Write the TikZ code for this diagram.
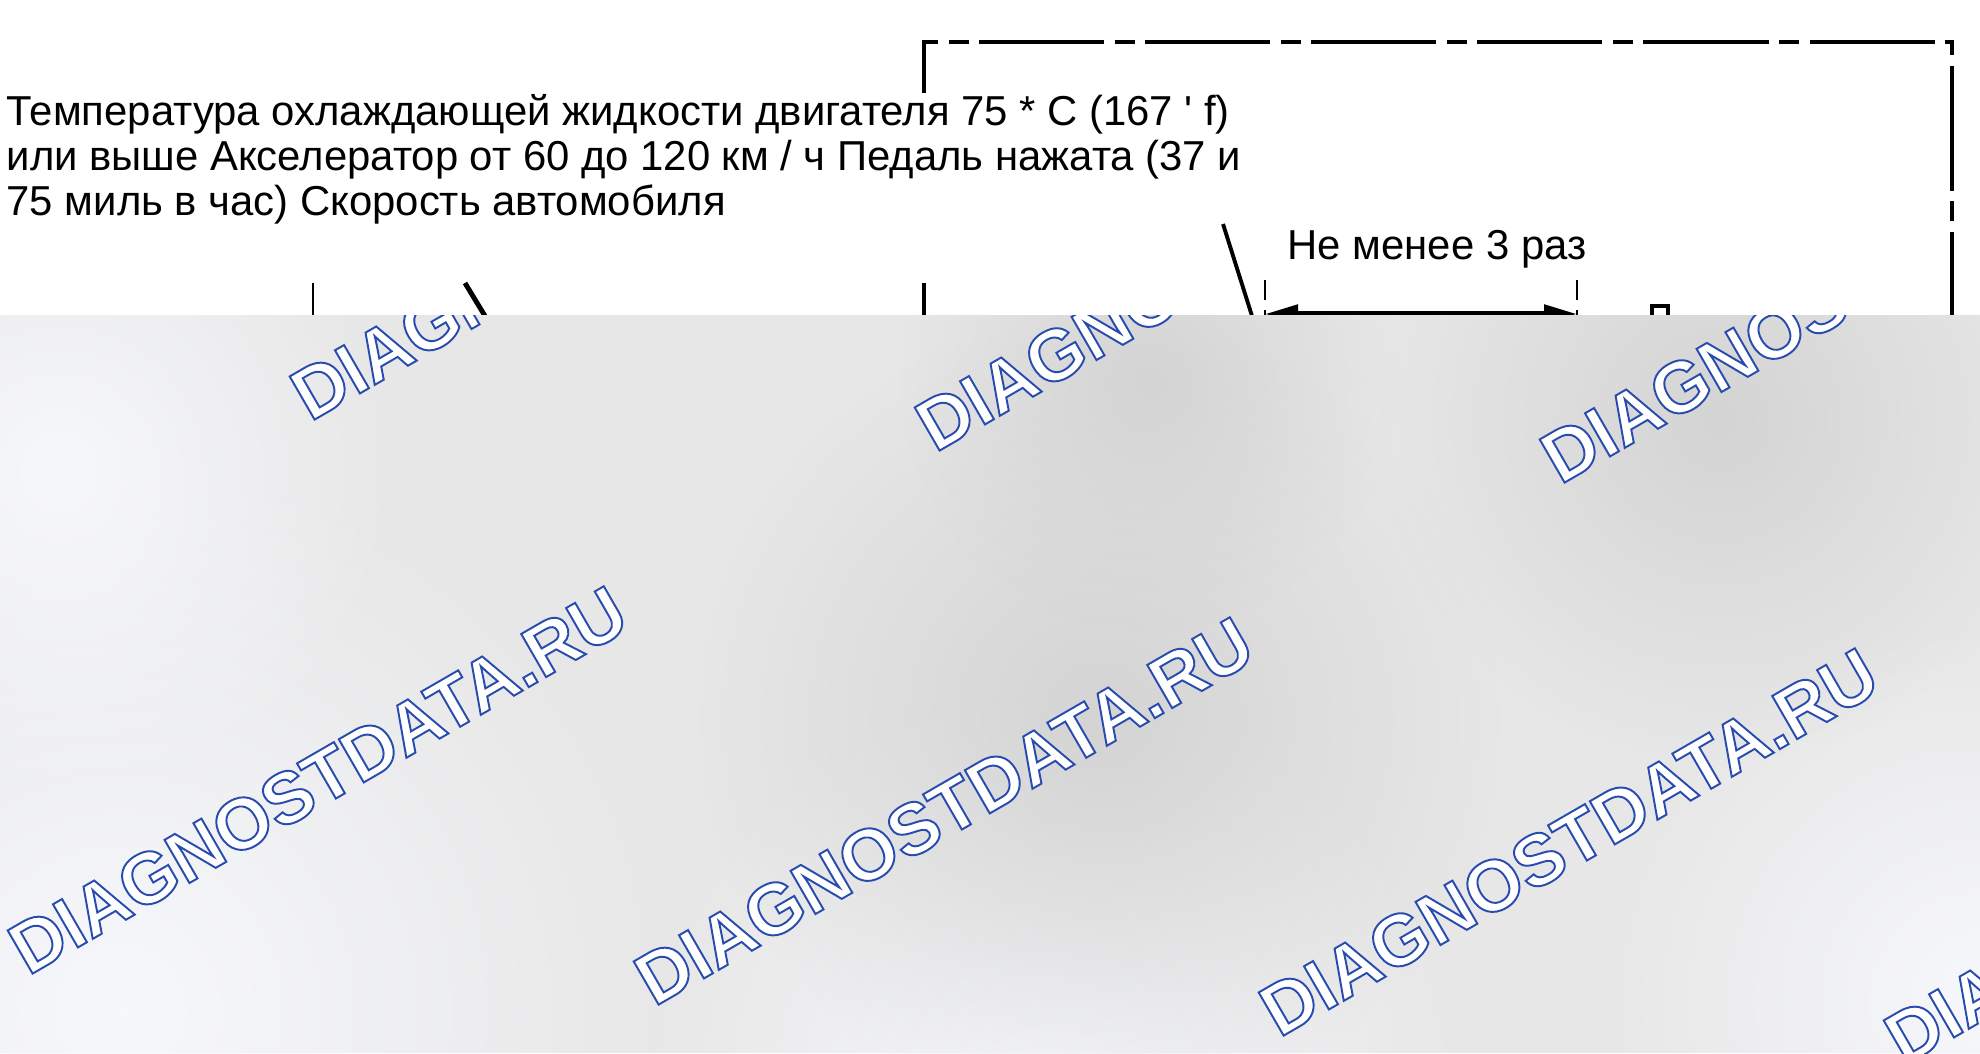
\documentclass[tikz,border=0pt]{standalone}
\usepackage{fontspec}
\newfontfamily\labelfont{Liberation Sans}
\newfontfamily\markfont{Liberation Sans Bold}
\usepackage{tikz}
\usetikzlibrary{arrows.meta, fadings}
\usepackage{xcolor}

\definecolor{markblue}{RGB}{40,75,175}
\definecolor{veilgray}{RGB}{231,231,231}
\definecolor{veildark}{RGB}{212,212,212}
\definecolor{veillight}{RGB}{247,248,252}

\tikzfading[name=softblob, inner color=transparent!0, outer color=transparent!100]

\makeatletter
\newcommand{\outlinetext}[1]{{\color{white}\pgfsys@invoke{q 2 Tr 0.55 w 0.157 0.294 0.686 RG}#1\pgfsys@invoke{Q}}}
\makeatother

\tikzset{
    labeltext/.style={font=\labelfont\fontsize{11.9}{12.8}\selectfont, align=left, inner sep=0pt},
    frameline/.style={line width=1.1pt, dash pattern=on 1.25cm off 0.105cm on 0.2cm off 0.105cm},
    thinline/.style={line width=0.75pt},
    thickline/.style={line width=1.1pt},
    watermark/.style={rotate=30, inner sep=0pt, font=\markfont\fontsize{20.6}{24}\selectfont}
}

\begin{document}
\begin{tikzpicture}[x=0.01cm, y=-0.01cm]
    % Page
    \fill[white] (0,0) rectangle (1980,1053);
    \useasboundingbox (0,0) rectangle (1980,1053);

    % Dashed frame
    \draw[frameline, dash phase=0.6cm] (924,93) -- (924,42) -- (1952,42) -- (1952,316);
    \draw[frameline] (924,283) -- (924,316);

    % Condition text
    \node[labeltext, anchor=north west] (cond) at (6,94)
        {Температура охлаждающей жидкости двигателя 75 * C (167 ' f)\\
         или выше Акселератор от 60 до 120 км / ч Педаль нажата (37 и\\
         75 миль в час) Скорость автомобиля};

    % Count label
    \node[labeltext, anchor=base] (count) at (1437,259) {Не менее 3 раз};

    % Leader lines
    \coordinate (leadA) at (313,283);
    \coordinate (leadB) at (313,316);
    \draw[thinline] (leadA) -- (leadB);
    \coordinate (slantA) at (465,283);
    \coordinate (slantB) at (485,316);
    \draw[line width=1.4pt] (slantA) -- (slantB);
    \coordinate (pointerA) at (1223,224);
    \coordinate (pointerB) at (1252,316);
    \draw[thickline] (pointerA) -- (pointerB);

    % Dimension arrow
    \coordinate (dimL) at (1265,314);
    \coordinate (dimR) at (1577,314);
    \draw[thinline, dash pattern=on 0.2cm off 0.1cm] (1265,280) -- (1265,316);
    \draw[thinline, dash pattern=on 0.2cm off 0.1cm] (1577,280) -- (1577,316);
    \draw[
        line width=1.5pt,
        {Triangle[length=0.33cm, width=0.18cm]}-{Triangle[length=0.33cm, width=0.18cm]}
        ]
        (dimL) -- (dimR);

    % Small box
    \draw[line width=0.9pt] (1652,316) -- (1652,306) -- (1668,306) -- (1668,316);

    % Grey veil
    \begin{scope}
        \clip (0,315) rectangle (1980,1053);
        \fill[veilgray] (0,315) rectangle (1980,1053);
        \fill[veillight, path fading=softblob] (120,1010) circle (560);
        \fill[veillight, path fading=softblob] (60,470) circle (340);
        \fill[veillight, path fading=softblob] (1050,1100) circle (420);
        \fill[veillight, path fading=softblob] (1980,1000) circle (380);
        \fill[veildark, path fading=softblob] (1100,720) circle (400);
        \fill[veildark, path fading=softblob] (1720,420) circle (340);
        \fill[veildark, path fading=softblob] (1150,380) circle (250);

        % Watermarks
        \node[watermark] (mark0) at (-307,748) {\outlinetext{DIAGNOSTDATA.RU}};
        \node[watermark] (mark1) at (318,780) {\outlinetext{DIAGNOSTDATA.RU}};
        \node[watermark] (mark2) at (944,811) {\outlinetext{DIAGNOSTDATA.RU}};
        \node[watermark] (mark3) at (1569,842) {\outlinetext{DIAGNOSTDATA.RU}};
        \node[watermark] (mark4) at (2194,870) {\outlinetext{DIAGNOSTDATA.RU}};
        \node[watermark] (mark5) at (600,226) {\outlinetext{DIAGNOSTDATA.RU}};
        \node[watermark] (mark6) at (1225,257) {\outlinetext{DIAGNOSTDATA.RU}};
        \node[watermark] (mark7) at (1850,289) {\outlinetext{DIAGNOSTDATA.RU}};
    \end{scope}
\end{tikzpicture}
\end{document}
